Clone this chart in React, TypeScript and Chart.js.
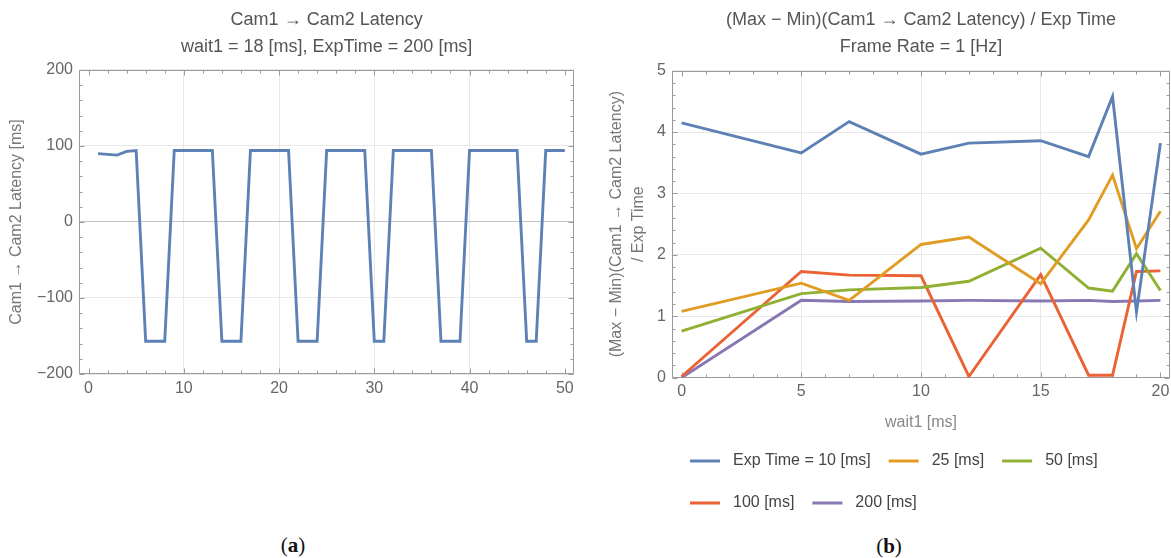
import React, { useEffect, useRef } from "react";
import { Chart, registerables } from "chart.js";

Chart.register(...registerables);

// ---------- data: panel (a) ----------
const frameIndex = [
  1, 2, 3, 4, 5, 6, 7, 8, 9, 10, 11, 12, 13, 14, 15, 16, 17, 18, 19, 20, 21, 22, 23, 24, 25,
  26, 27, 28, 29, 30, 31, 32, 33, 34, 35, 36, 37, 38, 39, 40, 41, 42, 43, 44, 45, 46, 47, 48, 49, 50,
];
const latencyMs = [
  90, 89, 88, 93, 94, -157, -157, -157, 94, 94, 94, 94, 94, -157, -157, -157, 94, 94, 94, 94, 94,
  -157, -157, -157, 94, 94, 94, 94, 94, -157, -157, 94, 94, 94, 94, 94, -157, -157, -157, 94, 94,
  94, 94, 94, 94, -157, -157, 94, 94, 94,
];
const leftXTicks = [0, 10, 20, 30, 40, 50];
const leftYTicks = [-200, -100, 0, 100, 200];

// ---------- data: panel (b) ----------
const wait1 = [0, 5, 7, 10, 12, 15, 17, 18, 19, 20];
const exp10 = [4.15, 3.66, 4.17, 3.64, 3.82, 3.86, 3.6, 4.58, 1.07, 3.82];
const exp25 = [1.08, 1.54, 1.26, 2.17, 2.29, 1.53, 2.57, 3.3, 2.1, 2.71];
const exp50 = [0.76, 1.37, 1.43, 1.47, 1.57, 2.11, 1.46, 1.41, 2.02, 1.42];
const exp100 = [0.02, 1.73, 1.67, 1.66, 0.02, 1.68, 0.04, 0.04, 1.73, 1.74];
const exp200 = [0.0, 1.26, 1.24, 1.25, 1.26, 1.25, 1.26, 1.24, 1.25, 1.26];
const seriesLabels = ["Exp Time = 10 [ms]", "25 [ms]", "50 [ms]", "100 [ms]", "200 [ms]"];
const seriesColors = ["#5E81B5", "#E19C24", "#8FB032", "#EB6235", "#8778B3"];
const rightXTicks = [0, 5, 10, 15, 20];
const rightYTicks = [0, 1, 2, 3, 4, 5];

const FONT = "'Liberation Sans', Arial, sans-serif";
const FRAME = "#9a9a9a";
const GRID = "#e8e8e8";
const LINE_W = 2.9;

const fmt = (v: number) => (v < 0 ? "\u2212" + Math.abs(v) : String(v));

// Mathematica-like frame with inward ticks on all four sides
const frameTicks = {
  id: "frameTicks",
  beforeDatasetsDraw(chart: any, _args: any, opts: any) {
    const { ctx, chartArea: a, scales } = chart;
    const xs = scales.x;
    const ys = scales.y;
    const L = Math.round(a.left) + 0.5;
    const R = Math.round(a.right) - 0.5;
    const T = Math.round(a.top) + 0.5;
    const B = Math.round(a.bottom) - 0.5;
    ctx.save();
    ctx.strokeStyle = FRAME;
    ctx.lineWidth = 1;
    ctx.beginPath();
    ctx.rect(L, T, R - L, B - T);
    ctx.stroke();
    const majorX = xs.ticks.map((t: any) => t.value);
    const majorY = ys.ticks.map((t: any) => t.value);
    const minorList = (min: number, max: number, step: number, major: number[]) => {
      const out: number[] = [];
      const n0 = Math.ceil(min / step - 1e-9);
      const n1 = Math.floor(max / step + 1e-9);
      for (let n = n0; n <= n1; n++) {
        const v = +(n * step).toFixed(6);
        if (!major.some((m) => Math.abs(m - v) < 1e-6)) out.push(v);
      }
      return out;
    };
    const minorX = minorList(xs.min, xs.max, opts.xMinor, majorX);
    const minorY = minorList(ys.min, ys.max, opts.yMinor, majorY);
    ctx.beginPath();
    const vx = (v: number, len: number) => {
      const p = Math.round(xs.getPixelForValue(v)) + 0.5;
      ctx.moveTo(p, B);
      ctx.lineTo(p, B - len);
      ctx.moveTo(p, T);
      ctx.lineTo(p, T + len);
    };
    const vy = (v: number, len: number) => {
      const p = Math.round(ys.getPixelForValue(v)) + 0.5;
      ctx.moveTo(L, p);
      ctx.lineTo(L + len, p);
      ctx.moveTo(R, p);
      ctx.lineTo(R - len, p);
    };
    majorX.forEach((v: number) => vx(v, 5));
    minorX.forEach((v: number) => vx(v, 3));
    majorY.forEach((v: number) => vy(v, 5));
    minorY.forEach((v: number) => vy(v, 3));
    ctx.stroke();
    ctx.restore();
  },
};

// draws line samples in the legend boxes
const legendLines = {
  id: "legendLines",
  afterDraw(chart: any) {
    const lg = chart.legend;
    if (!lg || !lg.options.display || !lg.legendHitBoxes) return;
    const { ctx } = chart;
    lg.legendItems.forEach((item: any, i: number) => {
      const hb = lg.legendHitBoxes[i];
      const ds = chart.data.datasets[item.datasetIndex];
      const y = Math.round(hb.top + hb.height / 2);
      ctx.save();
      ctx.strokeStyle = ds.borderColor;
      ctx.lineWidth = 3;
      ctx.beginPath();
      ctx.moveTo(hb.left, y);
      ctx.lineTo(hb.left + 30, y);
      ctx.stroke();
      ctx.restore();
    });
  },
};

function useChart(ref: React.RefObject<HTMLCanvasElement>, makeConfig: () => any) {
  useEffect(() => {
    if (!ref.current) return;
    const chart = new Chart(ref.current, makeConfig());
    return () => chart.destroy();
  }, []);
}

function LeftChart() {
  const ref = useRef<HTMLCanvasElement>(null);
  useChart(ref, () => ({
    type: "line",
    data: {
      datasets: [
        {
          label: "latency",
          data: frameIndex.map((x, i) => ({ x, y: latencyMs[i] })),
          borderColor: seriesColors[0],
          borderWidth: LINE_W,
          pointRadius: 0,
          tension: 0,
          fill: false,
        },
      ],
    },
    options: {
      responsive: false,
      animation: false,
      devicePixelRatio: 1,
      events: [],
      layout: { padding: { left: 0, right: 25.7, top: 0, bottom: 0 } },
      plugins: {
        legend: { display: false },
        tooltip: { enabled: false },
        title: {
          display: true,
          fullSize: false,
          text: ["Cam1 \u2192 Cam2 Latency", "wait1 = 18 [ms], ExpTime = 200 [ms]"],
          color: "#555",
          font: { family: FONT, size: 18, lineHeight: 1.48, weight: "normal" },
          padding: { top: 6.7, bottom: 10.0 },
        },
        frameTicks: { xMinor: 2, yMinor: 20 },
      },
      scales: {
        x: {
          type: "linear",
          min: -1,
          max: 51,
          afterBuildTicks: (s: any) => {
            s.ticks = leftXTicks.map((v) => ({ value: v }));
          },
          afterFit: (s: any) => {
            s.height = 36;
          },
          border: { display: false },
          grid: {
            drawTicks: false,
            color: (c: any) =>
              c.tick && (c.tick.value === 0 || c.tick.value === 50) ? "rgba(0,0,0,0)" : GRID,
          },
          ticks: {
            padding: 4.5,
            color: "#666",
            font: { family: FONT, size: 16 },
            callback: (v: any) => fmt(Number(v)),
          },
        },
        y: {
          type: "linear",
          min: -200,
          max: 200,
          afterBuildTicks: (s: any) => {
            s.ticks = leftYTicks.map((v) => ({ value: v }));
          },
          afterFit: (s: any) => {
            s.width = 79;
          },
          border: { display: false },
          grid: {
            drawTicks: false,
            color: (c: any) => (c.tick && c.tick.value === 0 ? "#c4c4c4" : GRID),
          },
          ticks: {
            padding: 6,
            color: "#666",
            font: { family: FONT, size: 16 },
            callback: (v: any) => fmt(Number(v)),
          },
          title: {
            display: true,
            text: "Cam1 \u2192 Cam2 Latency [ms]",
            color: "#777",
            font: { family: FONT, size: 16, lineHeight: 1.2 },
            padding: { top: 7.4, bottom: 0 },
          },
        },
      },
    },
    plugins: [frameTicks],
  }));
  return (
    <canvas
      ref={ref}
      width={600}
      height={410}
      style={{ position: "absolute", left: 0, top: 0, width: 600, height: 410 }}
    />
  );
}

function RightChart() {
  const ref = useRef<HTMLCanvasElement>(null);
  const series = [exp10, exp25, exp50, exp100, exp200];
  useChart(ref, () => ({
    type: "line",
    data: {
      datasets: series.map((vals, k) => ({
        label: seriesLabels[k],
        data: wait1.map((x, i) => ({ x, y: vals[i] })),
        borderColor: seriesColors[k],
        backgroundColor: seriesColors[k],
        borderWidth: LINE_W,
        pointRadius: 0,
        tension: 0,
        fill: false,
      })),
    },
    options: {
      responsive: false,
      animation: false,
      devicePixelRatio: 1,
      events: [],
      layout: { padding: { left: 0, right: 20, top: 0, bottom: 5.3 } },
      plugins: {
        tooltip: { enabled: false },
        title: {
          display: true,
          fullSize: false,
          text: ["(Max \u2212 Min)(Cam1 \u2192 Cam2 Latency) / Exp Time", "Frame Rate = 1 [Hz]"],
          color: "#555",
          font: { family: FONT, size: 18, lineHeight: 1.48, weight: "normal" },
          padding: { top: 6.7, bottom: 10.7 },
        },
        legend: {
          display: true,
          position: "bottom",
          align: "start",
          fullSize: false,
          labels: {
            boxWidth: 35,
            boxHeight: 24,
            padding: 18,
            color: "#444",
            font: { family: FONT, size: 16 },
            generateLabels: (chart: any) =>
              chart.data.datasets.map((ds: any, i: number) => ({
                text: ds.label,
                fillStyle: "rgba(0,0,0,0)",
                strokeStyle: "rgba(0,0,0,0)",
                lineWidth: 0,
                hidden: false,
                datasetIndex: i,
                fontColor: "#444",
              })),
          },
        },
        frameTicks: { xMinor: 1, yMinor: 0.2 },
      },
      scales: {
        x: {
          type: "linear",
          min: -0.4,
          max: 20.4,
          afterBuildTicks: (s: any) => {
            s.ticks = rightXTicks.map((v) => ({ value: v }));
          },
          afterFit: (s: any) => {
            s.height = 53;
          },
          border: { display: false },
          grid: {
            drawTicks: false,
            color: (c: any) =>
              c.tick && (c.tick.value === 0 || c.tick.value === 20) ? "rgba(0,0,0,0)" : GRID,
          },
          ticks: {
            padding: 4.5,
            color: "#666",
            font: { family: FONT, size: 16 },
            callback: (v: any) => fmt(Number(v)),
          },
          title: {
            display: true,
            text: "wait1 [ms]",
            color: "#888",
            font: { family: FONT, size: 16, lineHeight: 1 },
            padding: { top: 0, bottom: 0 },
          },
        },
        y: {
          type: "linear",
          min: 0,
          max: 5,
          afterBuildTicks: (s: any) => {
            s.ticks = rightYTicks.map((v) => ({ value: v }));
          },
          afterFit: (s: any) => {
            s.width = 72;
          },
          border: { display: false },
          grid: {
            drawTicks: false,
            color: GRID,
          },
          ticks: {
            padding: 6,
            color: "#666",
            font: { family: FONT, size: 16 },
            callback: (v: any) => fmt(Number(v)),
          },
          title: {
            display: true,
            text: ["(Max \u2212 Min)(Cam1 \u2192 Cam2 Latency)", "/ Exp Time"],
            color: "#777",
            font: { family: FONT, size: 16, lineHeight: 1.375 },
            padding: { top: 6, bottom: 0 },
          },
        },
      },
    },
    plugins: [frameTicks, legendLines],
  }));
  return (
    <canvas
      ref={ref}
      width={590}
      height={530}
      style={{ position: "absolute", left: 600, top: 0, width: 590, height: 530 }}
    />
  );
}

const panelLabel: React.CSSProperties = {
  position: "absolute",
  width: 100,
  textAlign: "center",
  fontFamily: "'Liberation Serif', 'DejaVu Serif', serif",
  fontSize: 21,
  lineHeight: "22px",
  color: "#111",
};

export default function App() {
  return (
    <div
      style={{
        position: "fixed",
        left: 0,
        top: 0,
        width: 1171,
        height: 558,
        overflow: "hidden",
        background: "#fff",
      }}
    >
      <LeftChart />
      <RightChart />
      <div style={{ ...panelLabel, left: 293 - 50, top: 534 }}>
        (<b>a</b>)
      </div>
      <div style={{ ...panelLabel, left: 889 - 50, top: 535 }}>
        (<b>b</b>)
      </div>
    </div>
  );
}
